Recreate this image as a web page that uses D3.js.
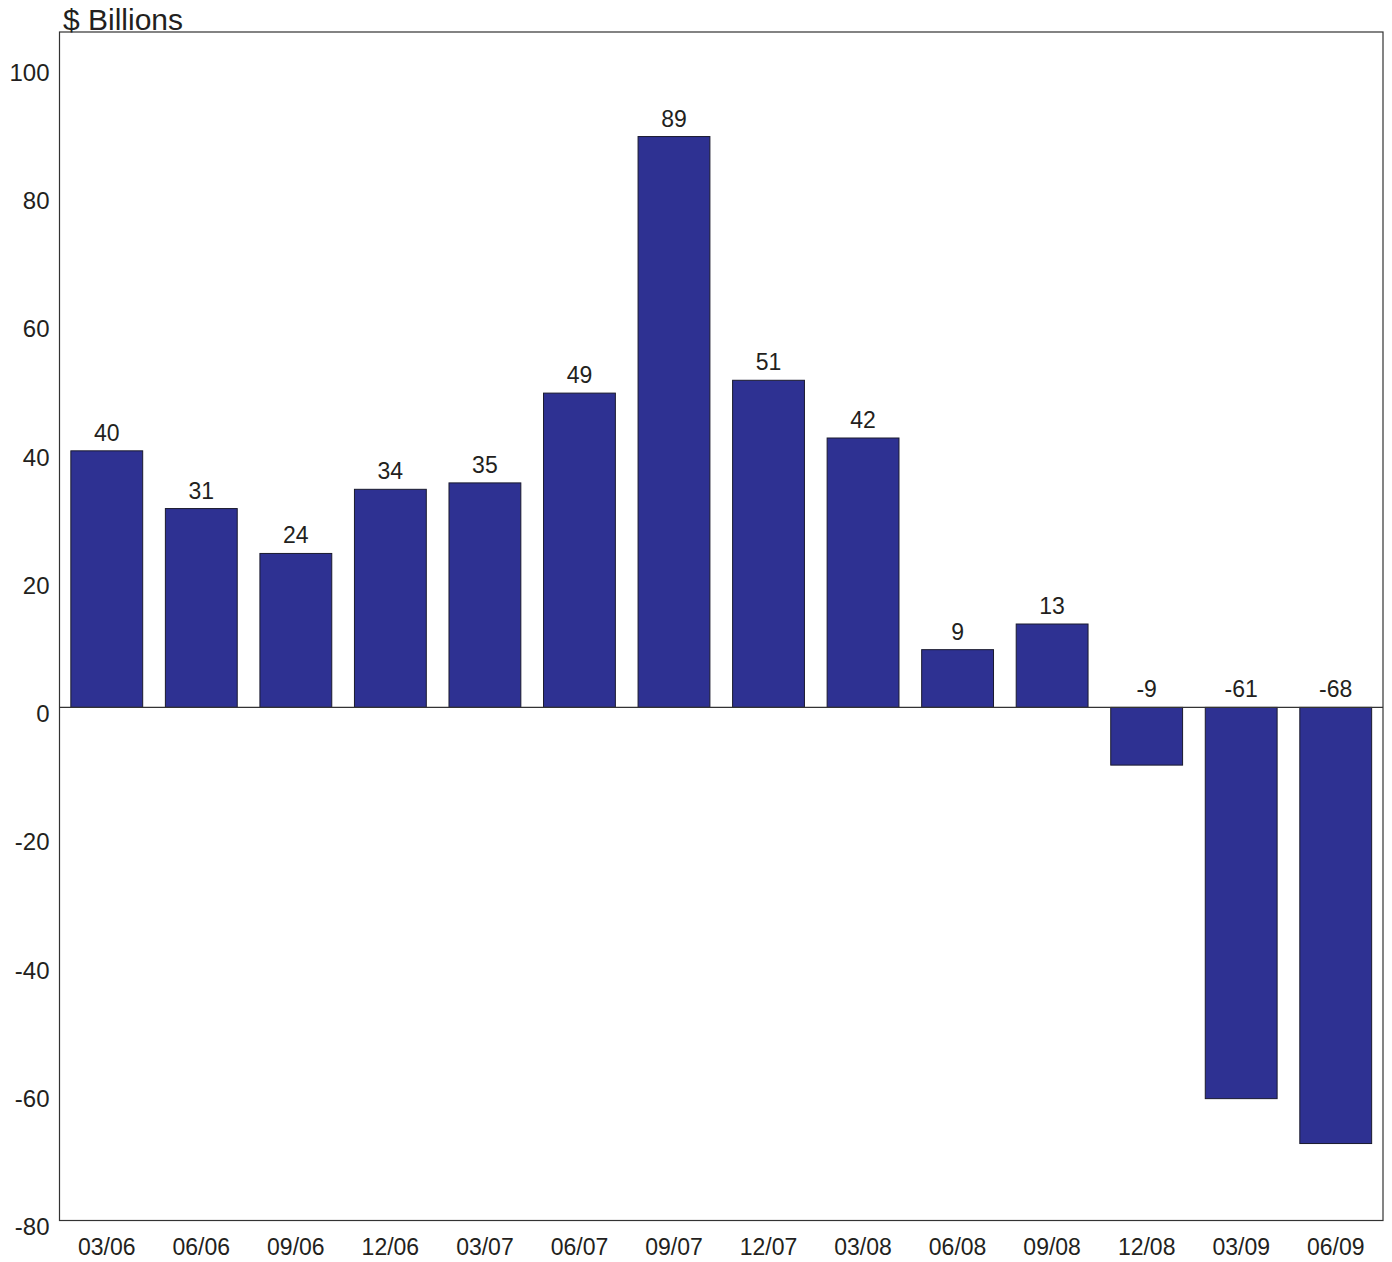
<!DOCTYPE html>
<html><head><meta charset="utf-8">
<script src="https://cdn.jsdelivr.net/npm/d3@7"></script>
<style>body{margin:0;background:#fff;}svg{display:block;font-family:"Liberation Sans",Arial,sans-serif;}</style>
</head><body>
<svg id="c" width="1392" height="1262"></svg>
<script>
const categories = ["03/06","06/06","09/06","12/06","03/07","06/07","09/07","12/07","03/08","06/08","09/08","12/08","03/09","06/09"];
const values = [40,31,24,34,35,49,89,51,42,9,13,-9,-61,-68];
const yTicks = [-80,-60,-40,-20,0,20,40,60,80,100];

const svg = d3.select("#c");
const L = 59.5, R = 1383, T = 32, B = 1220.5;
const x = d3.scaleBand().domain(categories).range([L, R]).paddingInner(0.24).paddingOuter(0.12);
const y = d3.scaleLinear().domain([-80, 105.3]).range([B, T]);
const txt = "#231f20";

// frame
svg.append("rect").attr("x", L).attr("y", T).attr("width", R - L).attr("height", B - T)
  .attr("fill", "none").attr("stroke", "#333").attr("stroke-width", 1.2);

// bars
svg.selectAll("rect.bar").data(values).join("rect").attr("class", "bar")
  .attr("x", (d, i) => x(categories[i]))
  .attr("width", x.bandwidth())
  .attr("y", d => y(Math.max(0, d)))
  .attr("height", d => Math.abs(y(d) - y(0)))
  .attr("fill", "#2e3192").attr("stroke", "#1a1a2e").attr("stroke-width", 1);

// zero line
svg.append("line").attr("x1", L).attr("x2", R).attr("y1", y(0)).attr("y2", y(0))
  .attr("stroke", "#333").attr("stroke-width", 1.2);

// value labels
svg.selectAll("text.val").data(values).join("text").attr("class", "val")
  .attr("x", (d, i) => x(categories[i]) + x.bandwidth() / 2)
  .attr("y", d => y(Math.max(0, d)) - 10)
  .attr("text-anchor", "middle").attr("font-size", 23).attr("fill", txt)
  .text(d => String(d));

// y axis labels
const yAxis = d3.axisLeft(y).tickValues(yTicks).tickSize(0).tickPadding(10).tickFormat(d => String(d));
const gy = svg.append("g").attr("transform", `translate(${L},0)`).call(yAxis);
gy.select(".domain").remove();
gy.selectAll("text").attr("font-size", 24).attr("fill", txt).attr("font-family", "Liberation Sans, Arial, sans-serif")
  .attr("dy", "0.72em").attr("y", -3);

// x axis labels
const xAxis = d3.axisBottom(x).tickSize(0).tickPadding(18);
const gx = svg.append("g").attr("transform", `translate(0,${B})`).call(xAxis);
gx.select(".domain").remove();
gx.selectAll("text").attr("font-size", 23).attr("fill", txt).attr("font-family", "Liberation Sans, Arial, sans-serif");

// title
svg.append("text").attr("x", 63).attr("y", 30).attr("font-size", 30).attr("fill", txt).text("$ Billions");
</script>
</body></html>
